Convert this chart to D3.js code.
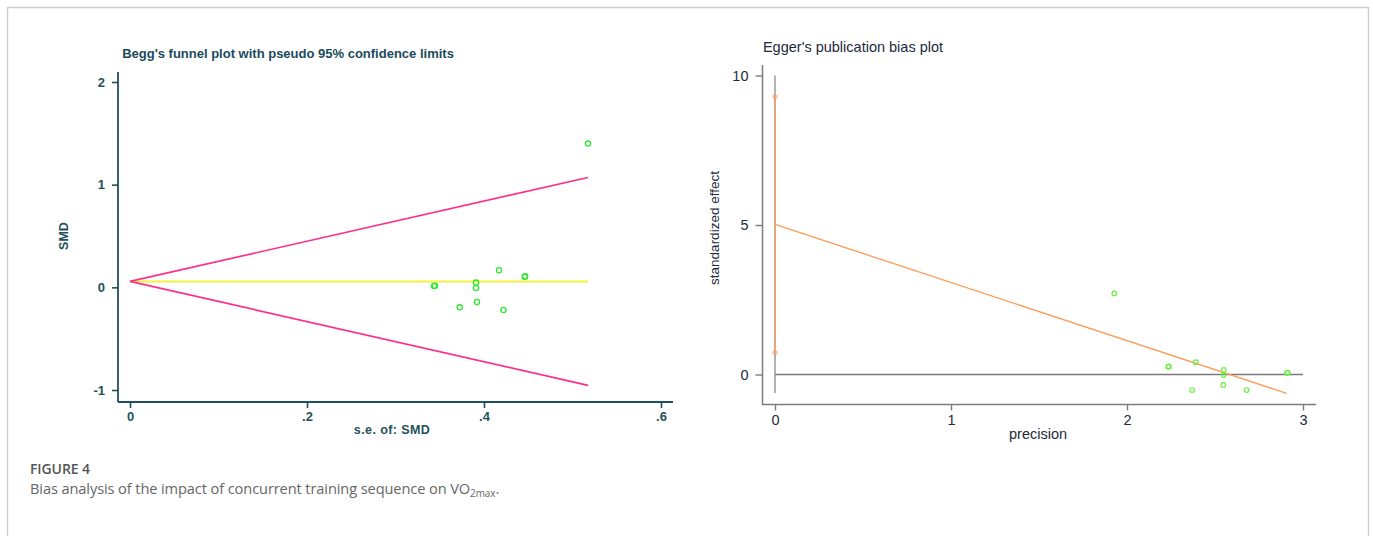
<!DOCTYPE html>
<html><head><meta charset="utf-8">
<script src="https://cdn.jsdelivr.net/npm/d3@7"></script>
<style>
html,body{margin:0;padding:0;background:#fff;}
svg{display:block;}
</style></head>
<body>
<script>
// ---------- Begg's funnel plot data ----------
const beggSE  = [0.3435, 0.3445, 0.391, 0.391, 0.417, 0.446, 0.4465, 0.3725, 0.392, 0.422, 0.5175];
const beggSMD = [0.013, 0.016, 0.046, -0.007, 0.166, 0.104, 0.108, -0.195, -0.143, -0.221, 1.40];
const beggPooled = 0.058;
const funnelSE    = [0, 0.5175];
const funnelUpper = [0.058, 1.07];
const funnelLower = [0.058, -0.955];
const beggXTicks = [0, 0.2, 0.4, 0.6];
const beggXTickLabels = ["0", ".2", ".4", ".6"];
const beggYTicks = [-1, 0, 1, 2];
const beggYTickLabels = ["-1", "0", "1", "2"];

// ---------- Egger's plot data ----------
const eggPrecision = [1.928, 2.235, 2.238, 2.39, 2.55, 2.55, 2.547, 2.37, 2.68, 2.91, 2.913];
const eggEffect    = [2.71, 0.26, 0.27, 0.41, 0.15, -0.02, -0.35, -0.52, -0.52, 0.05, 0.06];
const eggRegX = [0, 2.907];
const eggRegY = [5.02, -0.63];
const eggCI   = [0.73, 9.29];
const eggRefV = [-0.62, 10];
const eggXTicks = [0, 1, 2, 3];
const eggYTicks = [0, 5, 10];

const W = 1373, H = 536;
const svg = d3.select("body").append("svg").attr("width", W).attr("height", H);

// frame
svg.append("path").attr("d", `M7.5,${H+2} V7.5 H1368.5 V${H+2}`)
  .attr("fill","none").attr("stroke","#cfcfcf").attr("stroke-width",1.5);

// ================= Begg =================
const bColor = "#1f5258";
const bFont = "Liberation Sans, Arial, sans-serif";
const bx = d3.scaleLinear().domain([0, 0.6]).range([130, 661]);
const by = d3.scaleLinear().domain([-1, 2]).range([390, 82]);
const bg = svg.append("g");

bg.append("text").attr("x", 288).attr("y", 58).attr("text-anchor","middle")
  .attr("font-family",bFont).attr("font-weight","bold")
  .attr("font-size", 13).attr("fill", "#1b4a5a")
  .text("Begg's funnel plot with pseudo 95% confidence limits");

const byAxis = bg.append("g").attr("transform","translate(118,0)")
  .call(d3.axisLeft(by).tickValues(beggYTicks).tickSize(6).tickPadding(7)
    .tickFormat((d,i)=>beggYTickLabels[i]));
byAxis.select(".domain").remove();
byAxis.selectAll("line").attr("stroke", bColor).attr("stroke-width",1.6);
byAxis.selectAll("text").attr("fill", bColor).attr("font-family",bFont)
  .attr("font-weight","bold").attr("font-size",13);
bg.append("line").attr("x1",118).attr("x2",118).attr("y1",72).attr("y2",402)
  .attr("stroke",bColor).attr("stroke-width",1.8);

const bxAxis = bg.append("g").attr("transform","translate(0,402)")
  .call(d3.axisBottom(bx).tickValues(beggXTicks).tickSize(6).tickPadding(4)
    .tickFormat((d,i)=>beggXTickLabels[i]));
bxAxis.select(".domain").remove();
bxAxis.selectAll("line").attr("stroke", bColor).attr("stroke-width",1.6);
bxAxis.selectAll("text").attr("fill", bColor).attr("font-family",bFont)
  .attr("font-weight","bold").attr("font-size",13);
bg.append("line").attr("x1",118).attr("x2",673).attr("y1",402).attr("y2",402)
  .attr("stroke",bColor).attr("stroke-width",1.8);

bg.append("text").attr("x", 392).attr("y", 434).attr("text-anchor","middle")
  .attr("font-family",bFont).attr("font-weight","bold")
  .attr("font-size", 12.5).attr("fill", bColor).attr("letter-spacing","0.4").text("s.e. of: SMD");
bg.append("text").attr("transform","translate(68,236) rotate(-90)").attr("text-anchor","middle")
  .attr("font-family",bFont).attr("font-weight","bold")
  .attr("font-size", 12.5).attr("fill", bColor).text("SMD");

// pooled line
bg.append("line").attr("x1", bx(0)).attr("x2", bx(d3.max(funnelSE)))
  .attr("y1", by(beggPooled)).attr("y2", by(beggPooled))
  .attr("stroke","#f4f23a").attr("stroke-width",2);
// funnel limits
const bline = d3.line().x((d,i)=>bx(funnelSE[i])).y(d=>by(d));
bg.append("path").attr("d", bline(funnelUpper)).attr("fill","none").attr("stroke","#ff2f8a").attr("stroke-width",1.7);
bg.append("path").attr("d", bline(funnelLower)).attr("fill","none").attr("stroke","#ff2f8a").attr("stroke-width",1.7);

bg.selectAll("circle.pt").data(beggSE).enter().append("circle").attr("class","pt")
  .attr("cx",(d)=>bx(d)).attr("cy",(d,i)=>by(beggSMD[i])).attr("r",2.6)
  .attr("fill","none").attr("stroke","#2ee82e").attr("stroke-width",1.3);

// ================= Egger =================
const eColor = "#7d7d7d";
const eText = "#1e2a3c";
const ex = d3.scaleLinear().domain([0, 3]).range([775, 1303]);
const ey = d3.scaleLinear().domain([0, 10]).range([374.5, 75.5]);
const eg = svg.append("g");

eg.append("text").attr("x", 853).attr("y", 52).attr("text-anchor","middle")
  .attr("font-family",bFont)
  .attr("font-size", 14.5).attr("fill", eText).text("Egger's publication bias plot");

const eyAxis = eg.append("g").attr("transform","translate(762.5,0)")
  .call(d3.axisLeft(ey).tickValues(eggYTicks).tickSize(7).tickPadding(7).tickFormat(d3.format("d")));
eyAxis.select(".domain").remove();
eyAxis.selectAll("line").attr("stroke", eColor).attr("stroke-width",1.4);
eyAxis.selectAll("text").attr("fill", eText).attr("font-family",bFont)
  .attr("font-size",14.5);
eg.append("line").attr("x1",762.5).attr("x2",762.5).attr("y1",65).attr("y2",405)
  .attr("stroke",eColor).attr("stroke-width",1.5);

const exAxis = eg.append("g").attr("transform","translate(0,404.5)")
  .call(d3.axisBottom(ex).tickValues(eggXTicks).tickSize(6).tickPadding(4).tickFormat(d3.format("d")));
exAxis.select(".domain").remove();
exAxis.selectAll("line").attr("stroke", eColor).attr("stroke-width",1.4);
exAxis.selectAll("text").attr("fill", eText).attr("font-family",bFont)
  .attr("font-size",14.5);
eg.append("line").attr("x1",762).attr("x2",1316).attr("y1",404.5).attr("y2",404.5)
  .attr("stroke",eColor).attr("stroke-width",1.5);

eg.append("text").attr("x", 1038).attr("y", 439).attr("text-anchor","middle")
  .attr("font-family",bFont)
  .attr("font-size", 14.5).attr("fill", eText).text("precision");
eg.append("text").attr("transform","translate(719,228) rotate(-90)").attr("text-anchor","middle")
  .attr("font-family",bFont)
  .attr("font-size", 13.5).attr("fill", eText).text("standardized effect");

// reference lines
eg.append("line").attr("x1", ex(0)).attr("x2", ex(3)).attr("y1", ey(0)).attr("y2", ey(0))
  .attr("stroke","#7a7a7a").attr("stroke-width",1.4);
eg.append("line").attr("x1", ex(0)).attr("x2", ex(0)).attr("y1", ey(eggRefV[0])).attr("y2", ey(eggRefV[1]))
  .attr("stroke","#8a8a8a").attr("stroke-width",1.3);

// intercept CI
eg.append("line").attr("x1", ex(0)).attr("x2", ex(0)).attr("y1", ey(eggCI[0])).attr("y2", ey(eggCI[1]))
  .attr("stroke","#ffa060").attr("stroke-width",1.3);
eg.selectAll("circle.ci").data(eggCI).enter().append("circle").attr("class","ci")
  .attr("cx", ex(0)).attr("cy", d=>ey(d)).attr("r",2)
  .attr("fill","none").attr("stroke","#ff9a55").attr("stroke-width",1);

// regression line
const eline = d3.line().x((d,i)=>ex(eggRegX[i])).y(d=>ey(d));
eg.append("path").attr("d", eline(eggRegY)).attr("fill","none").attr("stroke","#ff9a55").attr("stroke-width",1.3);

eg.selectAll("circle.pt").data(eggPrecision).enter().append("circle").attr("class","pt")
  .attr("cx",(d)=>ex(d)).attr("cy",(d,i)=>ey(eggEffect[i])).attr("r",2.3)
  .attr("fill","none").attr("stroke","#6af23a").attr("stroke-width",1.2);

// ================= Caption =================
svg.append("text").attr("x", 30).attr("y", 474)
  .attr("font-family","Open Sans, Noto Sans, sans-serif").attr("font-weight","600")
  .attr("font-size", 14).attr("fill", "#555").attr("letter-spacing","-0.1")
  .text("FIGURE 4");
const cap = svg.append("text").attr("x", 30).attr("y", 494)
  .attr("font-family","Open Sans, Noto Sans, sans-serif")
  .attr("font-size", 14.6).attr("fill", "#666").attr("letter-spacing","-0.1");
cap.append("tspan").text("Bias analysis of the impact of concurrent training sequence on VO");
cap.append("tspan").attr("font-size", 10).attr("dy", 3).text("2max");
cap.append("tspan").attr("dy", -3).text(".");
</script>
</body></html>
